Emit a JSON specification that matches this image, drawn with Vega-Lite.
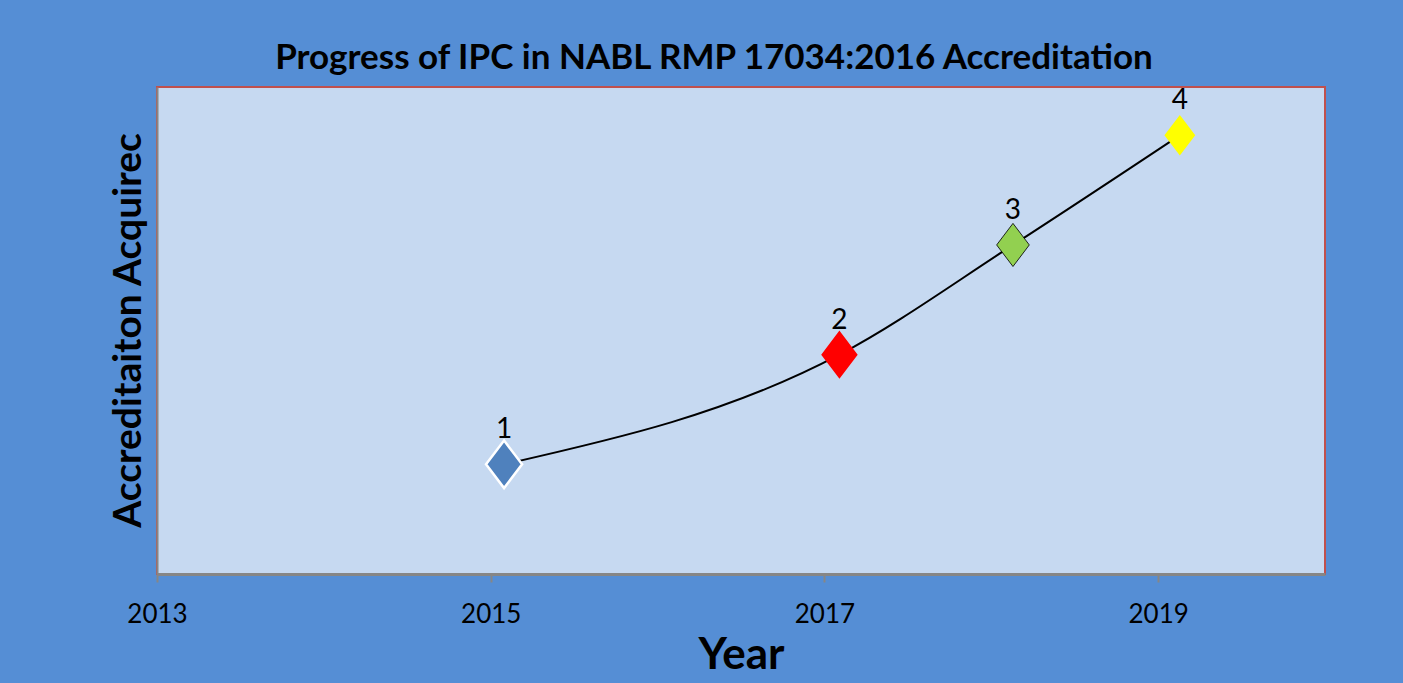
{
  "$schema": "https://vega.github.io/schema/vega-lite/v6.json",
  "autosize": {"type": "none"},
  "width": 1168,
  "height": 487,
  "padding": {"left": 157, "top": 87, "right": 78, "bottom": 109},
  "background": "#558ED5",
  "title": {
    "text": "Progress of IPC in NABL RMP 17034:2016 Accreditation",
    "font": "Lato",
    "fontSize": 35,
    "fontWeight": "bold",
    "color": "#000000",
    "anchor": "middle",
    "baseline": "alphabetic",
    "dx": -27,
    "offset": -17
  },
  "config": {
    "view": {"fill": "#C6D9F1", "stroke": "#C0504D", "strokeWidth": 2},
    "font": "Lato"
  },
  "data": {
    "values": [
      {"year": 2015.08, "count": 1, "label": "1"},
      {"year": 2017.09, "count": 2, "label": "2"},
      {"year": 2018.13, "count": 3, "label": "3"},
      {"year": 2019.13, "count": 4, "label": "4"}
    ]
  },
  "encoding": {
    "x": {
      "field": "year",
      "type": "quantitative",
      "scale": {"domain": [2013, 2020], "nice": false, "zero": false},
      "axis": {
        "title": "Year",
        "titleFont": "Lato",
        "titleFontSize": 44,
        "titleFontWeight": "bold",
        "titleColor": "#000000",
        "titleY": 81,
        "titleBaseline": "middle",
        "values": [2013, 2015, 2017, 2019],
        "format": "d",
        "labelFont": "Lato",
        "labelFontSize": 26,
        "labelColor": "#000000",
        "labelPadding": 19,
        "labelFlush": false,
        "labelOverlap": false,
        "tickColor": "#868686",
        "tickSize": 8,
        "tickWidth": 2,
        "domainColor": "#868686",
        "domainWidth": 3,
        "grid": false
      }
    },
    "y": {
      "field": "count",
      "type": "quantitative",
      "scale": {"domain": [0, 4.44], "nice": false},
      "axis": {
        "title": "Accreditaiton Acquirec",
        "titleFont": "Lato",
        "titleFontSize": 39,
        "titleFontWeight": "bold",
        "titleColor": "#000000",
        "titleX": -29,
        "titleY": 243,
        "titleBaseline": "middle",
        "titleAngle": -90,
        "labels": false,
        "ticks": false,
        "grid": false,
        "domainColor": "#868686",
        "domainWidth": 2
      }
    }
  },
  "layer": [
    {
      "mark": {"type": "line", "color": "#000000", "strokeWidth": 2, "interpolate": "monotone"},
      "encoding": {}
    },
    {
      "mark": {"type": "point", "shape": "M0,-1.32L1,0L0,1.32L-1,0Z", "filled": true, "opacity": 1},
      "encoding": {
        "color": {
          "field": "label",
          "type": "nominal",
          "scale": {"domain": ["1", "2", "3", "4"], "range": ["#4F81BD", "#FF0000", "#92D050", "#FFFF00"]},
          "legend": null
        },
        "stroke": {
          "field": "label",
          "type": "nominal",
          "scale": {"domain": ["1", "2", "3", "4"], "range": ["#FFFFFF", "#FF0000", "#000000", "#000000"]},
          "legend": null
        },
        "strokeWidth": {
          "field": "label",
          "type": "nominal",
          "scale": {"domain": ["1", "2", "3", "4"], "range": [2.5, 0, 2, 2]},
          "legend": null
        },
        "size": {
          "field": "label",
          "type": "nominal",
          "scale": {"domain": ["1", "2", "3", "4"], "range": [1300, 950, 840, 840]},
          "legend": null
        }
      }
    },
    {
      "mark": {"type": "text", "dy": -34, "fontSize": 28, "font": "Lato", "color": "#000000"},
      "encoding": {"text": {"field": "label"}}
    }
  ]
}
